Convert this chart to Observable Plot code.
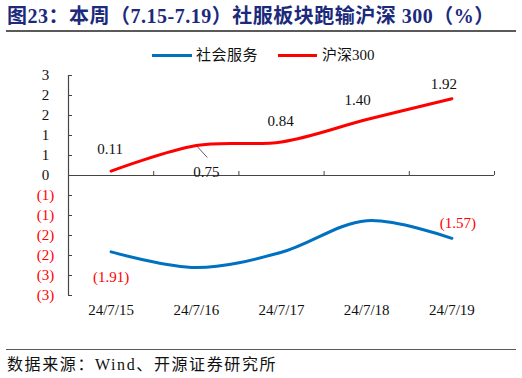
<!DOCTYPE html>
<html>
<head>
<meta charset="utf-8">
<script src="https://cdn.jsdelivr.net/npm/d3@7"></script>
<script src="https://cdn.jsdelivr.net/npm/@observablehq/plot@0.6"></script>
<style>
  html, body { margin: 0; padding: 0; background: #fff; }
  #wrap { position: relative; width: 522px; height: 378px; background: #fff; overflow: hidden;
          font-family: "Liberation Serif", "Noto Sans CJK SC", serif; }
  #title { position: absolute; left: 7px; top: 6px; font-size: 20px; line-height: 20px; font-weight: bold; color: #1c2a7c; white-space: nowrap; letter-spacing: 0.5px; }
  .hr { position: absolute; left: 6px; width: 510px; height: 1.5px; background: #5a5a5a; }
  #legend { position: absolute; top: 47px; left: 152px; height: 16px; display: flex; align-items: center; font-size: 15px; line-height: 16px; color: #111; white-space: nowrap; }
  .sw { display: inline-block; height: 3px; }
  #chart { position: absolute; left: 0; top: 60px; }
  #source { position: absolute; left: 7px; top: 357px; font-size: 16px; line-height: 16px; color: #111; white-space: nowrap; letter-spacing: 1.6px; }
</style>
</head>
<body>
<div id="wrap">
  <div id="title">图23：本周（7.15-7.19）社服板块跑输沪深 300（%）</div>
  <div class="hr" style="top:30px"></div>
  <div id="legend"></div>
  <div id="chart"></div>
  <div class="hr" style="top:348.5px"></div>
  <div id="source">数据来源：Wind、开源证券研究所</div>
</div>
<script>
// ---- data ----
const dates = ["24/7/15", "24/7/16", "24/7/17", "24/7/18", "24/7/19"];
const hs300 = [0.11, 0.75, 0.84, 1.40, 1.92];
const social = [-1.91, -2.30, -1.92, -1.13, -1.57];
const yTicks = [-3, -2.5, -2, -1.5, -1, -0.5, 0, 0.5, 1, 1.5, 2, 2.5];
const seriesNames = ["社会服务", "沪深300"];
const socialLabelIdx = [0, 4];

// ---- styling ----
const colors = ["#0070C0", "#FF0000"];
const negColor = "#FF0000";
const axisColor = "#454545";
const hsLabelOffsets = [[-1, -22], [10, 27], [-1, -21], [-9, -19], [-8, -15]];
const socialLabelOffsets = {0: [0, 25], 4: [6, -15]};

// legend
const legend = document.getElementById("legend");
legend.innerHTML =
  `<span class="sw" style="width:40px;background:${colors[0]}"></span>` +
  `<span style="margin-left:4px;letter-spacing:0.5px">${seriesNames[0]}</span>` +
  `<span class="sw" style="width:39px;background:${colors[1]};margin-left:20px"></span>` +
  `<span style="margin-left:5px">${seriesNames[1]}</span>`;

const rows = dates.map((d, i) => ({i, date: d, hs: hs300[i], so: social[i]}));
const fmtLabel = v => v < 0 ? `(${(-v).toFixed(2)})` : v.toFixed(2);
const fmtTick = v => v < 0 ? `(${Math.round(-v)})` : `${Math.round(v)}`;
const xc = d => d.i + 0.5;

const pxPerX = (522 - 68 - 28) / 5;
const pxPerY = (280 - 15 - 45) / 5.5;

const labelMarks = [];
rows.forEach((r, i) => {
  const [dx, dy] = hsLabelOffsets[i];
  labelMarks.push(Plot.text([r], {x: xc, y: "hs", text: d => fmtLabel(d.hs), dx, dy, fill: "#111", textAnchor: "middle"}));
});
socialLabelIdx.forEach(i => {
  const [dx, dy] = socialLabelOffsets[i];
  labelMarks.push(Plot.text([rows[i]], {x: xc, y: "so", text: d => fmtLabel(d.so), dx, dy, fill: negColor, textAnchor: "middle"}));
});

const chart = Plot.plot({
  width: 522,
  height: 280,
  marginLeft: 68,
  marginRight: 28,
  marginTop: 15,
  marginBottom: 45,
  x: {domain: [0, 5], axis: null},
  y: {domain: [-3, 2.5], axis: null},
  style: {fontFamily: '"Liberation Serif", "Noto Sans CJK SC", serif', fontSize: "15px", background: "transparent", overflow: "visible"},
  marks: [
    Plot.ruleY([0], {stroke: axisColor, strokeWidth: 1.2}),
    Plot.ruleX([0], {stroke: axisColor, strokeWidth: 1.2}),
    Plot.ruleY(yTicks, {y: d => d, x1: 0, x2: 4 / pxPerX, stroke: axisColor}),
    Plot.ruleX(d3.range(6), {x: d => d, y1: 0, y2: 4 / pxPerY, stroke: axisColor}),
    Plot.text(yTicks, {y: d => d, frameAnchor: "left", dx: -23, textAnchor: "middle", text: fmtTick, fill: d => d < 0 ? negColor : "#111"}),
    Plot.text(rows, {x: xc, frameAnchor: "bottom", dy: 19, text: "date", fill: "#111", textAnchor: "middle"}),
    Plot.link([rows[1]], {x1: xc, y1: "hs", x2: d => xc(d) + 11 / pxPerX, y2: d => d.hs - 12 / pxPerY, stroke: "#333", strokeWidth: 0.8}),
    Plot.line(rows, {x: xc, y: "so", stroke: colors[0], strokeWidth: 3, curve: "catmull-rom"}),
    Plot.line(rows, {x: xc, y: "hs", stroke: colors[1], strokeWidth: 3, curve: "catmull-rom"}),
    ...labelMarks
  ]
});
document.getElementById("chart").appendChild(chart);
</script>
</body>
</html>
